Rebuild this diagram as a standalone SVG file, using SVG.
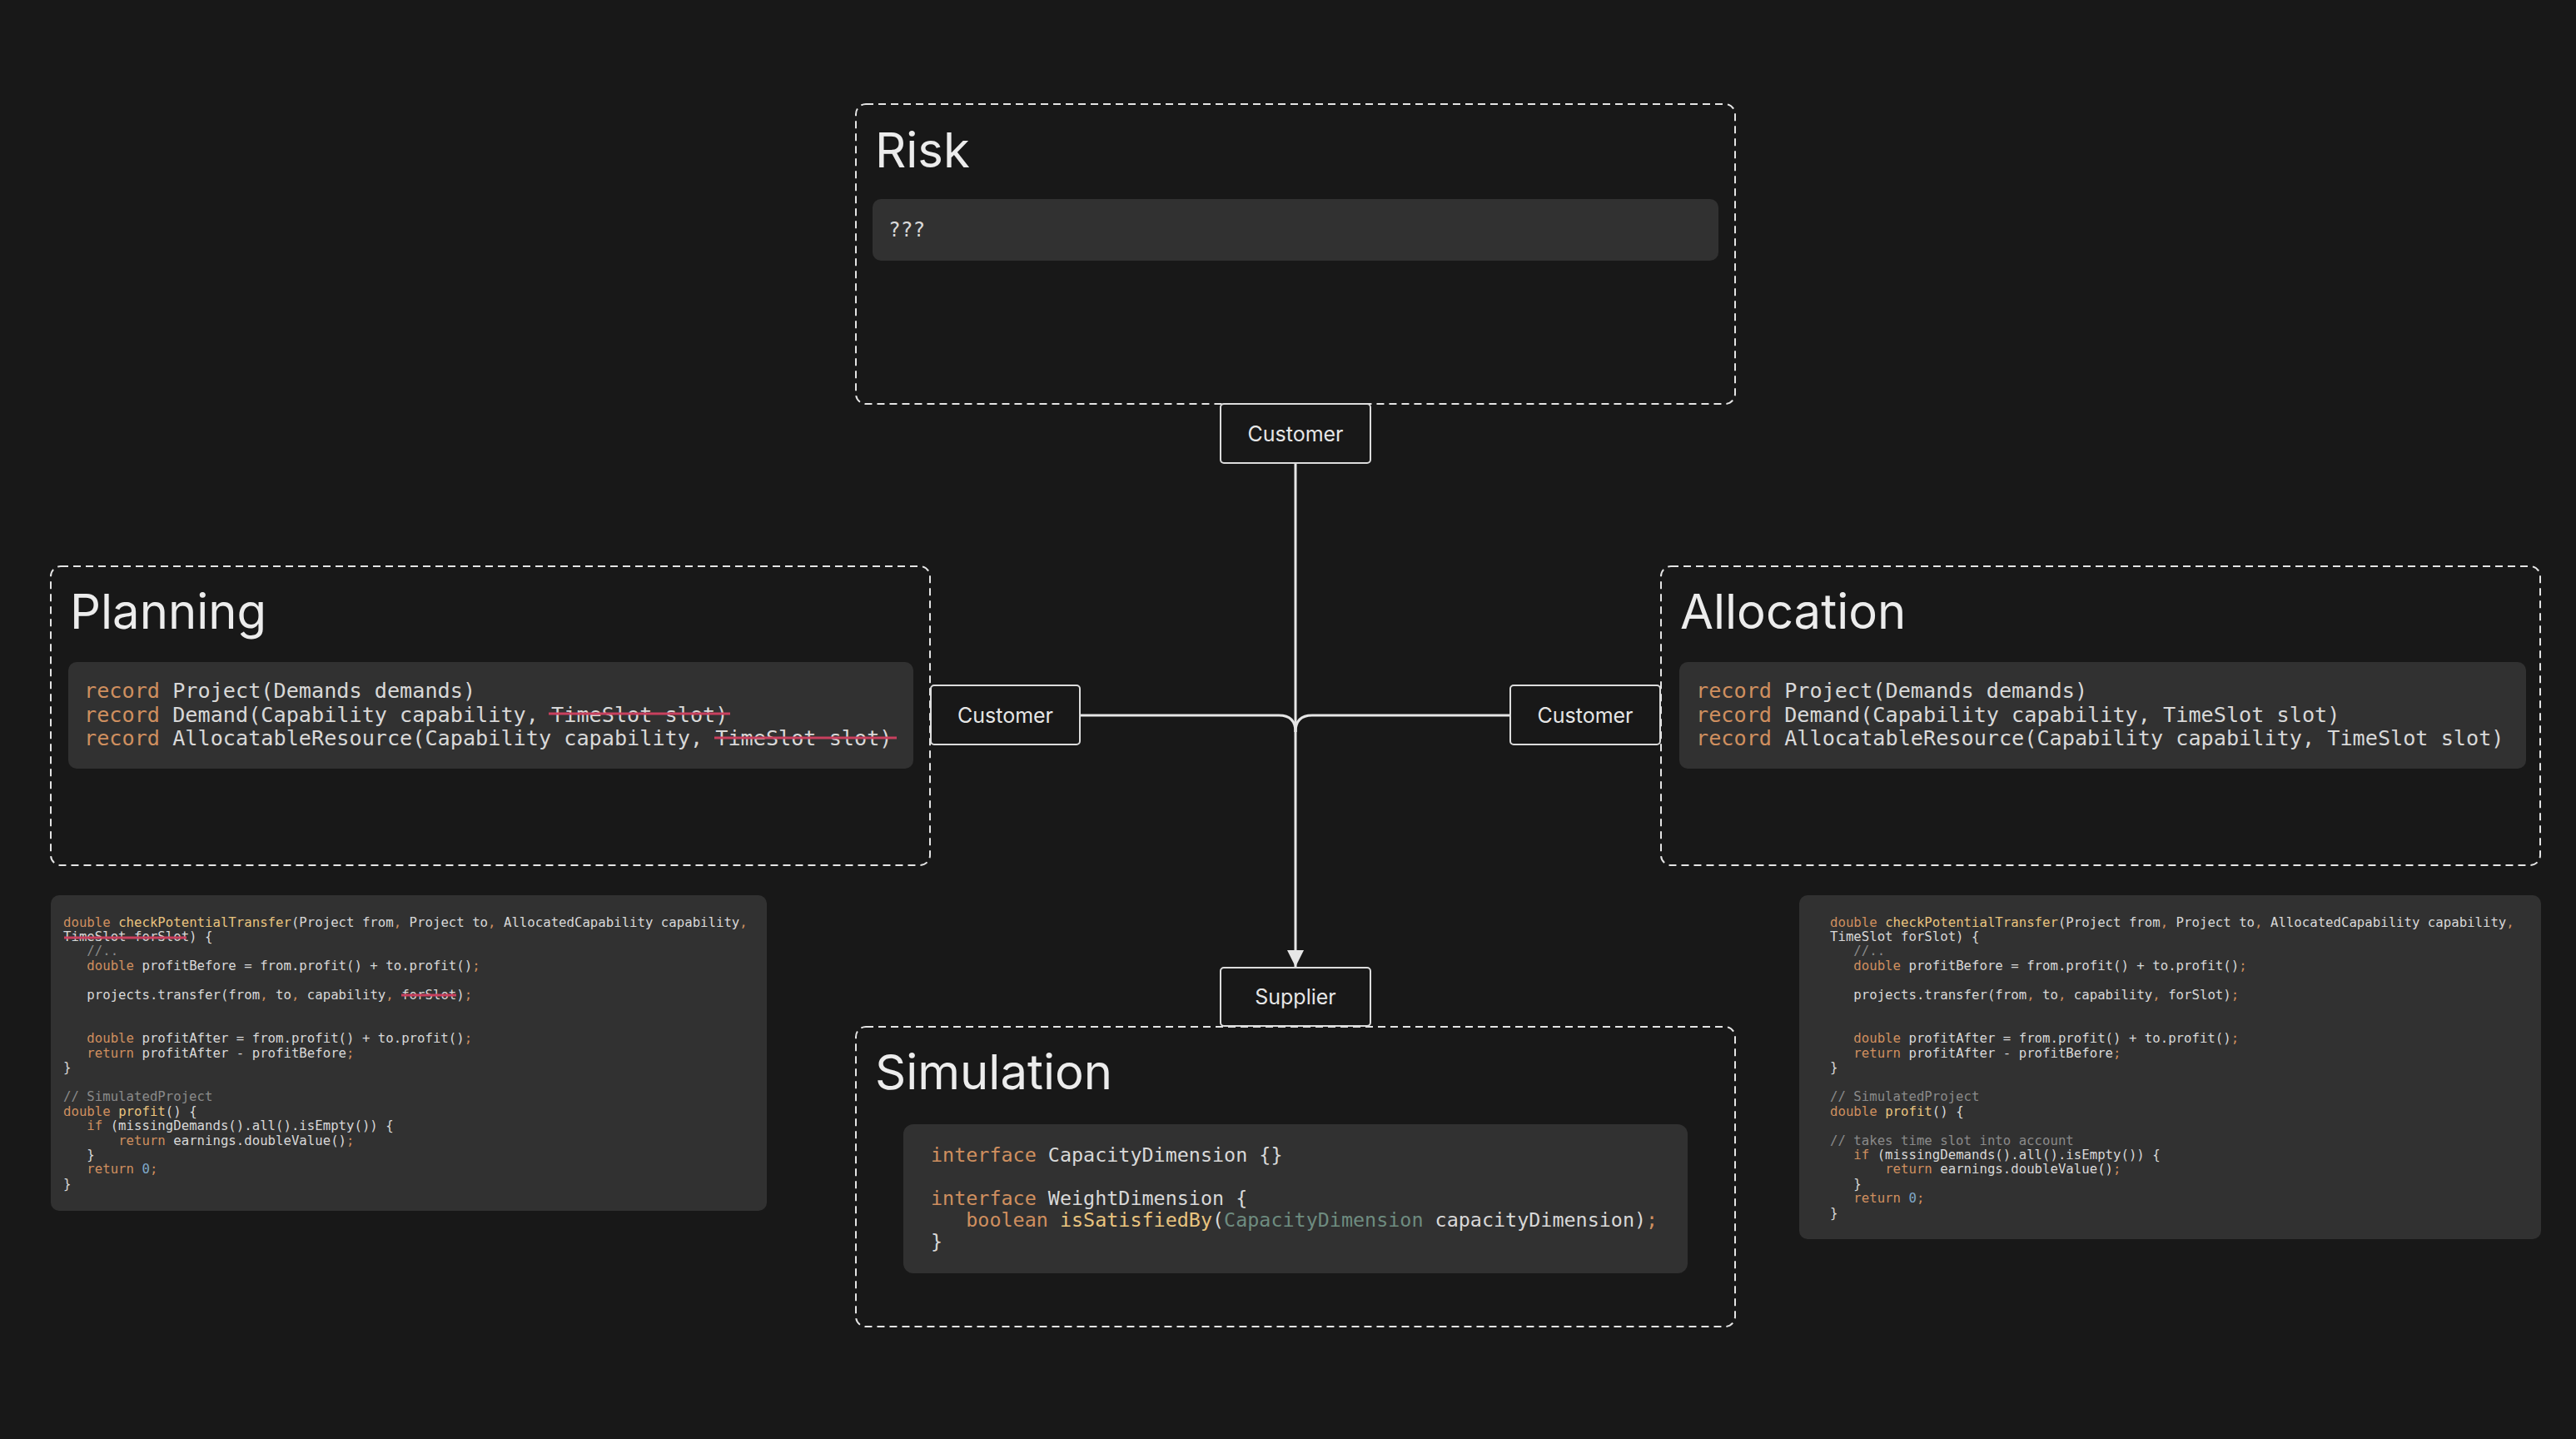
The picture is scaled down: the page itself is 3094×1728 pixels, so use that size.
<svg xmlns="http://www.w3.org/2000/svg" width="3094" height="1728" viewBox="0 0 3094 1728">
<style>
.bg{fill:#181818}
.frame{fill:none;stroke:#e4e4e4;stroke-width:2;stroke-dasharray:9 6}
.code{fill:#313131}
.title{font-family:Inter,"Noto Sans","Liberation Sans",sans-serif;font-size:58px;fill:#ececec}
.lbl{font-family:Inter,"Noto Sans","Liberation Sans",sans-serif;font-size:25px;fill:#e6e6e6;text-anchor:middle}
.port{fill:#181818;stroke:#dcdcdc;stroke-width:2}
.mono{font-family:"DejaVu Sans Mono","Liberation Mono",monospace;fill:#d8d8d8}
.m25{font-size:25.2px}
.m23{font-size:23.4px}
.m16{font-size:15.7px}
.k{fill:#cf8f5f}
.f{fill:#e9c47f}
.c{fill:#8a8a8a}
.n{fill:#7fa8c8}
.t{fill:#6e8c80}
.strike{stroke:#c8405e;stroke-width:3;fill:none}
.conn{fill:none;stroke:#e6e6e6;stroke-width:3}
</style>
<defs>
<marker id="arrow" viewBox="0 0 20 20" refX="20" refY="10" markerWidth="20" markerHeight="20" markerUnits="userSpaceOnUse" orient="auto">
<path d="M0,0 L20,10 L0,20 Z" fill="#e6e6e6"/>
</marker>
</defs>
<rect class="bg" x="0" y="0" width="3094" height="1728"/>

<g id="risk">
<rect class="frame" x="1028" y="125" width="1056" height="360" rx="12"/>
<text class="title" x="1051" y="201">Risk</text>
<rect class="code" x="1048" y="239" width="1016" height="74" rx="10"/>
<text class="mono" x="1067" y="284" font-size="24.5">???</text>
</g>

<g id="planning">
<rect class="frame" x="61" y="680" width="1056" height="359" rx="12"/>
<text class="title" x="84" y="755">Planning</text>
<rect class="code" x="82" y="795" width="1015" height="128" rx="10"/>
<text class="mono m25" x="101" y="838" xml:space="preserve"><tspan class="k">record</tspan> Project(Demands demands)</text>
<text class="mono m25" x="101" y="867" xml:space="preserve"><tspan class="k">record</tspan> Demand(Capability capability, TimeSlot slot)</text>
<text class="mono m25" x="101" y="895" xml:space="preserve"><tspan class="k">record</tspan> AllocatableResource(Capability capability, TimeSlot slot)</text>
<line class="strike" x1="659" y1="857" x2="877" y2="857"/>
<line class="strike" x1="858" y1="886" x2="1077" y2="886"/>
</g>

<g id="allocation">
<rect class="frame" x="1995" y="680" width="1056" height="359" rx="12"/>
<text class="title" x="2018" y="755">Allocation</text>
<rect class="code" x="2017" y="795" width="1017" height="128" rx="10"/>
<text class="mono m25" x="2037" y="838" xml:space="preserve"><tspan class="k">record</tspan> Project(Demands demands)</text>
<text class="mono m25" x="2037" y="867" xml:space="preserve"><tspan class="k">record</tspan> Demand(Capability capability, TimeSlot slot)</text>
<text class="mono m25" x="2037" y="895" xml:space="preserve"><tspan class="k">record</tspan> AllocatableResource(Capability capability, TimeSlot slot)</text>
</g>

<g id="simulation">
<rect class="frame" x="1028" y="1233" width="1056" height="360" rx="12"/>
<text class="title" x="1051" y="1308">Simulation</text>
<rect class="code" x="1085" y="1350" width="942" height="179" rx="12"/>
<text class="mono m23" x="1118" y="1395" xml:space="preserve"><tspan class="k">interface</tspan> CapacityDimension {}</text>
<text class="mono m23" x="1118" y="1447" xml:space="preserve"><tspan class="k">interface</tspan> WeightDimension {</text>
<text class="mono m23" x="1118" y="1473" xml:space="preserve">   <tspan class="k">boolean</tspan> <tspan class="f">isSatisfiedBy</tspan>(<tspan class="t">CapacityDimension</tspan> capacityDimension)<tspan class="k">;</tspan></text>
<text class="mono m23" x="1118" y="1499" xml:space="preserve">}</text>
</g>

<g id="planning-code">
<rect class="code" x="61" y="1075" width="860" height="379" rx="10"/>
<text class="mono m16" x="76" y="1112.5" xml:space="preserve"><tspan class="k">double</tspan> <tspan class="f">checkPotentialTransfer</tspan>(Project from<tspan class="k">,</tspan> Project to<tspan class="k">,</tspan> AllocatedCapability capability<tspan class="k">,</tspan></text>
<text class="mono m16" x="76" y="1130" xml:space="preserve">TimeSlot forSlot) {</text>
<text class="mono m16" x="76" y="1147.4" xml:space="preserve">   <tspan class="c">//..</tspan></text>
<text class="mono m16" x="76" y="1164.9" xml:space="preserve">   <tspan class="k">double</tspan> profitBefore = from.profit() + to.profit()<tspan class="k">;</tspan></text>
<text class="mono m16" x="76" y="1199.8" xml:space="preserve">   projects.transfer(from<tspan class="k">,</tspan> to<tspan class="k">,</tspan> capability<tspan class="k">,</tspan> forSlot)<tspan class="k">;</tspan></text>
<text class="mono m16" x="76" y="1252.2" xml:space="preserve">   <tspan class="k">double</tspan> profitAfter = from.profit() + to.profit()<tspan class="k">;</tspan></text>
<text class="mono m16" x="76" y="1269.7" xml:space="preserve">   <tspan class="k">return</tspan> profitAfter - profitBefore<tspan class="k">;</tspan></text>
<text class="mono m16" x="76" y="1287.1" xml:space="preserve">}</text>
<text class="mono m16" x="76" y="1322.1" xml:space="preserve"><tspan class="c">// SimulatedProject</tspan></text>
<text class="mono m16" x="76" y="1339.5" xml:space="preserve"><tspan class="k">double</tspan> <tspan class="f">profit</tspan>() {</text>
<text class="mono m16" x="76" y="1357" xml:space="preserve">   <tspan class="k">if</tspan> (missingDemands().all().isEmpty()) {</text>
<text class="mono m16" x="76" y="1374.5" xml:space="preserve">       <tspan class="k">return</tspan> earnings.doubleValue()<tspan class="k">;</tspan></text>
<text class="mono m16" x="76" y="1391.9" xml:space="preserve">   }</text>
<text class="mono m16" x="76" y="1409.4" xml:space="preserve">   <tspan class="k">return</tspan> <tspan class="n">0</tspan><tspan class="k">;</tspan></text>
<text class="mono m16" x="76" y="1426.9" xml:space="preserve">}</text>
<line class="strike" x1="77" y1="1126" x2="224" y2="1126"/>
<line class="strike" x1="482" y1="1195" x2="548" y2="1195"/>
</g>

<g id="allocation-code">
<rect class="code" x="2161" y="1075" width="891" height="413" rx="10"/>
<text class="mono m16" x="2198" y="1112.5" xml:space="preserve"><tspan class="k">double</tspan> <tspan class="f">checkPotentialTransfer</tspan>(Project from<tspan class="k">,</tspan> Project to<tspan class="k">,</tspan> AllocatedCapability capability<tspan class="k">,</tspan></text>
<text class="mono m16" x="2198" y="1130" xml:space="preserve">TimeSlot forSlot) {</text>
<text class="mono m16" x="2198" y="1147.4" xml:space="preserve">   <tspan class="c">//..</tspan></text>
<text class="mono m16" x="2198" y="1164.9" xml:space="preserve">   <tspan class="k">double</tspan> profitBefore = from.profit() + to.profit()<tspan class="k">;</tspan></text>
<text class="mono m16" x="2198" y="1199.8" xml:space="preserve">   projects.transfer(from<tspan class="k">,</tspan> to<tspan class="k">,</tspan> capability<tspan class="k">,</tspan> forSlot)<tspan class="k">;</tspan></text>
<text class="mono m16" x="2198" y="1252.2" xml:space="preserve">   <tspan class="k">double</tspan> profitAfter = from.profit() + to.profit()<tspan class="k">;</tspan></text>
<text class="mono m16" x="2198" y="1269.7" xml:space="preserve">   <tspan class="k">return</tspan> profitAfter - profitBefore<tspan class="k">;</tspan></text>
<text class="mono m16" x="2198" y="1287.1" xml:space="preserve">}</text>
<text class="mono m16" x="2198" y="1322.1" xml:space="preserve"><tspan class="c">// SimulatedProject</tspan></text>
<text class="mono m16" x="2198" y="1339.5" xml:space="preserve"><tspan class="k">double</tspan> <tspan class="f">profit</tspan>() {</text>
<text class="mono m16" x="2198" y="1374.5" xml:space="preserve"><tspan class="c">// takes time slot into account</tspan></text>
<text class="mono m16" x="2198" y="1391.9" xml:space="preserve">   <tspan class="k">if</tspan> (missingDemands().all().isEmpty()) {</text>
<text class="mono m16" x="2198" y="1409.4" xml:space="preserve">       <tspan class="k">return</tspan> earnings.doubleValue()<tspan class="k">;</tspan></text>
<text class="mono m16" x="2198" y="1426.9" xml:space="preserve">   }</text>
<text class="mono m16" x="2198" y="1444.3" xml:space="preserve">   <tspan class="k">return</tspan> <tspan class="n">0</tspan><tspan class="k">;</tspan></text>
<text class="mono m16" x="2198" y="1461.8" xml:space="preserve">}</text>
</g>

<g id="connectors">
<path class="conn" d="M1556,556 V1161" marker-end="url(#arrow)"/>
<path class="conn" d="M1297,859 H1536 Q1556,859 1556,879"/>
<path class="conn" d="M1814,859 H1576 Q1556,859 1556,879"/>
</g>

<g id="port-risk-customer">
<rect class="port" x="1466" y="485" width="180" height="71" rx="4"/>
<text class="lbl" x="1556" y="530">Customer</text>
</g>
<g id="port-planning-customer">
<rect class="port" x="1118" y="823" width="179" height="71" rx="4"/>
<text class="lbl" x="1207.5" y="867.5">Customer</text>
</g>
<g id="port-allocation-customer">
<rect class="port" x="1814" y="823" width="180" height="71" rx="4"/>
<text class="lbl" x="1904" y="867.5">Customer</text>
</g>
<g id="port-simulation-supplier">
<rect class="port" x="1466" y="1162" width="180" height="70" rx="4"/>
<text class="lbl" x="1556" y="1206">Supplier</text>
</g>
</svg>
